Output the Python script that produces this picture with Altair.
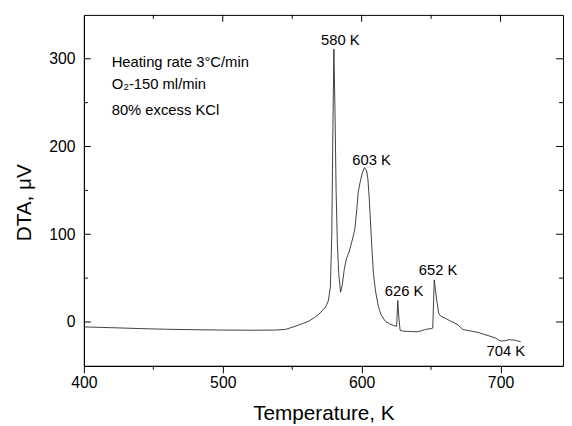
import altair as alt
import pandas as pd

# DTA curve
temp = [400, 420, 440, 460, 480, 500, 520, 538, 545, 552, 558, 562, 566, 570, 574, 576,
        577.5, 578.5, 579.3, 580, 580.8, 581.6, 582.5, 583.5, 584.8, 586, 587.5, 589, 591,
        593, 595, 596.5, 597.5, 599, 600.5, 602, 603.5, 604.5, 605.5, 606.5, 607.5, 608.5,
        610, 612, 614, 617, 620, 623, 625.2, 626, 626.8, 627.7, 630, 635, 640, 643, 646,
        650, 651.2, 652.3, 654, 655.5, 657, 661, 664, 667, 669.5, 673, 676, 679, 684, 688,
        692, 696, 700, 703, 706, 710, 712, 714.5]
dta = [-5.6, -6.5, -7.5, -8.3, -8.8, -9.2, -9.4, -9.2, -8.5, -5, -1.5, 1, 5, 10, 17, 24,
       40, 100, 220, 311, 240, 150, 90, 55, 34, 42, 60, 72, 80,
       92, 105, 128, 148, 160, 170, 176, 173, 163, 140, 110, 80, 55,
       35, 18, 8, 1, -2, -4, -5, 24.5, 5, -9.5, -10.5, -10.8, -11.2, -10, -8.5,
       -7.5, -7, 48, 25, 10, 6.5, 3.7, 1, -1.1, -3.7, -8.6, -9.5, -10.5, -12, -14,
       -16, -18, -21.7, -21.5, -20.2, -20.6, -21.5, -22.5]

x_major = [400, 500, 600, 700]
x_minor = [450, 550, 650]
x_top_major = [500, 600, 700]
y_major = [0, 100, 200, 300]
y_minor = [50, 150, 250]

peak_labels = ["580 K", "603 K", "626 K", "652 K", "704 K"]
peak_label_t = [584.6, 607.1, 630.5, 655.1, 703.8]
peak_label_v = [316, 178.7, 29.6, 53.9, -39]

note_lines = ["Heating rate 3°C/min", "O₂-150 ml/min", "80% excess KCl"]
note_t = [420, 420, 420]
note_v = [291, 266, 235.6]

W, H = 486, 356
FONT = "Liberation Sans"

xs = alt.Scale(domain=[400, 745], nice=False, zero=False)
ys = alt.Scale(domain=[-50, 350], nice=False, zero=False)

curve = alt.Chart(pd.DataFrame({"T": temp, "DTA": dta})).mark_line(
    color="#2a2a2a", strokeWidth=0.9
).encode(
    x=alt.X("T:Q", scale=xs, axis=alt.Axis(
        values=x_major, format="d", tickSize=7, tickColor="black", tickWidth=1,
        domainColor="black", domainWidth=1, grid=False,
        labelFont=FONT, labelFontSize=16, labelColor="black", labelPadding=2, labelFlush=False,
        title="Temperature, K", titleFont=FONT, titleFontSize=21, titleFontWeight="normal",
        titleColor="black", titleY=54, titleBaseline="alphabetic")),
    y=alt.Y("DTA:Q", scale=ys, axis=alt.Axis(
        values=y_major, format="d", tickSize=0, domainColor="black", domainWidth=1, grid=False,
        labelFont=FONT, labelFontSize=16, labelColor="black", labelPadding=9,
        title="DTA, μV", titleFont=FONT, titleFontSize=21, titleFontWeight="normal",
        titleColor="black", titleX=-54, titleY=190, titleAngle=270, titleAlign="center",
        titleBaseline="alphabetic")),
)


def xticks(vals, y1, y2):
    return alt.Chart(pd.DataFrame({"v": vals})).mark_rule(color="black", strokeWidth=1).encode(
        x=alt.X("v:Q", scale=xs, axis=None), y=alt.value(y1), y2=alt.value(y2))


def yticks(vals, x1, x2):
    return alt.Chart(pd.DataFrame({"v": vals})).mark_rule(color="black", strokeWidth=1).encode(
        y=alt.Y("v:Q", scale=ys, axis=None), x=alt.value(x1), x2=alt.value(x2))


ticks = [
    xticks(x_minor, H, H + 4),
    xticks(x_top_major, 0, 7),
    xticks(x_minor, 0, 4),
    yticks(y_major, 0, 7),
    yticks(y_minor, 0, 4),
    yticks(y_major, W - 7, W),
    yticks(y_minor, W - 4, W),
]

peaks = alt.Chart(pd.DataFrame({"t": peak_label_t, "v": peak_label_v, "lab": peak_labels})).mark_text(
    align="center", baseline="alphabetic", font=FONT, fontSize=15, color="black"
).encode(x=alt.X("t:Q", scale=xs, axis=None), y=alt.Y("v:Q", scale=ys, axis=None), text="lab:N")

notes = alt.Chart(pd.DataFrame({"t": note_t, "v": note_v, "lab": note_lines})).mark_text(
    align="left", baseline="alphabetic", font=FONT, fontSize=15, color="black"
).encode(x=alt.X("t:Q", scale=xs, axis=None), y=alt.Y("v:Q", scale=ys, axis=None), text="lab:N")

chart = alt.layer(curve, *ticks, peaks, notes).resolve_axis(
    x="independent", y="independent"
).properties(
    width=W, height=H,
    autosize=alt.AutoSizeParams(type="none"),
    padding={"left": 77, "top": 4, "right": 1, "bottom": 58},
    background="white",
).configure_view(stroke="black", strokeWidth=1)

chart.save("out.html", embed_options={"renderer": "svg", "actions": False})
